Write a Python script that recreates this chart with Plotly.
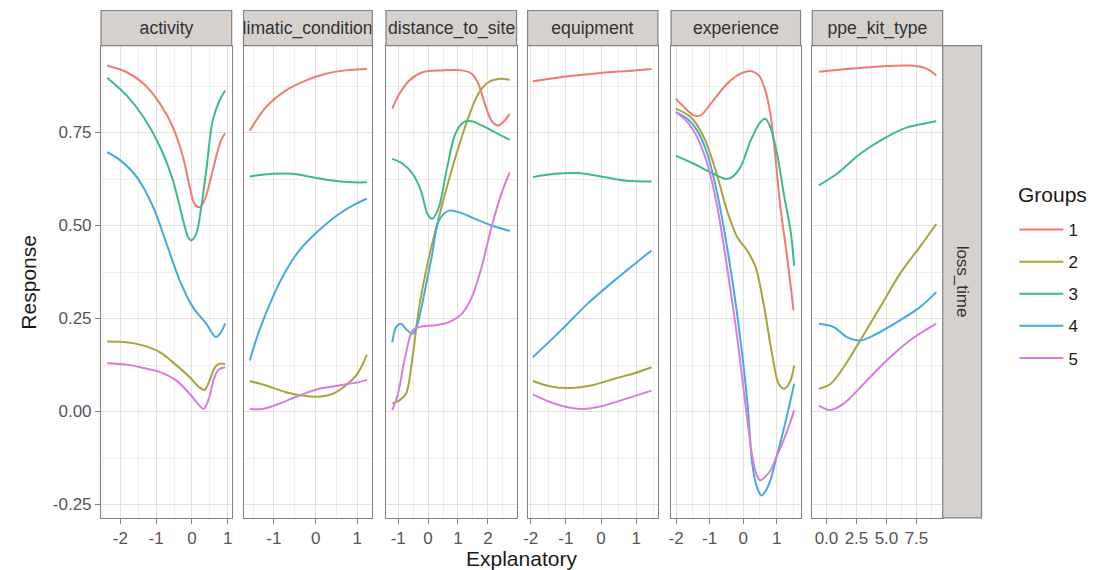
import plotly.graph_objects as go

# ---------------- data ----------------
panels = ["activity", "climatic_conditions", "distance_to_site", "equipment", "experience", "ppe_kit_type"]
groups = ["1", "2", "3", "4", "5"]
colors = ["#F27A70", "#A8A43A", "#3DBB86", "#43ABDF", "#DA7CDC"]

# activity
activity_1_x = [-2.37, -1.82, -1.35, -0.89, -0.53, -0.25, -0.06, 0.07, 0.21, 0.35, 0.58, 0.81, 0.93]
activity_1_y = [0.930, 0.912, 0.881, 0.827, 0.764, 0.684, 0.603, 0.558, 0.549, 0.567, 0.648, 0.729, 0.748]
activity_2_x = [-2.37, -1.82, -1.35, -0.89, -0.43, -0.06, 0.21, 0.35, 0.50, 0.62, 0.75, 0.93]
activity_2_y = [0.188, 0.186, 0.177, 0.159, 0.124, 0.092, 0.065, 0.058, 0.085, 0.115, 0.128, 0.128]
activity_3_x = [-2.37, -1.82, -1.35, -0.89, -0.53, -0.29, -0.11, -0.02, 0.12, 0.26, 0.40, 0.58, 0.77, 0.93]
activity_3_y = [0.897, 0.849, 0.791, 0.711, 0.621, 0.531, 0.469, 0.460, 0.478, 0.549, 0.648, 0.782, 0.836, 0.863]
activity_4_x = [-2.37, -2.00, -1.54, -1.08, -0.71, -0.34, 0.03, 0.40, 0.67, 0.81, 0.93]
activity_4_y = [0.697, 0.675, 0.630, 0.549, 0.451, 0.352, 0.280, 0.236, 0.200, 0.213, 0.237]
activity_5_x = [-2.37, -1.82, -1.35, -0.89, -0.43, -0.06, 0.21, 0.33, 0.49, 0.62, 0.75, 0.93]
activity_5_y = [0.130, 0.126, 0.117, 0.106, 0.083, 0.047, 0.016, 0.007, 0.040, 0.090, 0.113, 0.119]

# climatic_conditions
climatic_1_x = [-1.58, -1.19, -0.71, -0.23, 0.24, 0.72, 1.23]
climatic_1_y = [0.755, 0.818, 0.863, 0.890, 0.908, 0.917, 0.921]
climatic_2_x = [-1.58, -1.19, -0.71, -0.31, 0.08, 0.40, 0.72, 1.00, 1.23]
climatic_2_y = [0.082, 0.070, 0.052, 0.043, 0.040, 0.047, 0.070, 0.101, 0.153]
climatic_3_x = [-1.58, -1.03, -0.55, -0.08, 0.40, 0.88, 1.23]
climatic_3_y = [0.632, 0.639, 0.639, 0.630, 0.621, 0.616, 0.616]
climatic_4_x = [-1.58, -1.35, -1.03, -0.71, -0.39, 0.08, 0.56, 0.96, 1.23]
climatic_4_y = [0.137, 0.218, 0.307, 0.379, 0.433, 0.487, 0.531, 0.558, 0.572]
climatic_5_x = [-1.58, -1.27, -0.87, -0.39, 0.08, 0.56, 1.03, 1.23]
climatic_5_y = [0.007, 0.007, 0.021, 0.043, 0.061, 0.070, 0.079, 0.085]

# distance_to_site
distance_1_x = [-1.20, -0.96, -0.63, -0.19, 0.47, 1.13, 1.46, 1.68, 1.90, 2.12, 2.34, 2.56, 2.73]
distance_1_y = [0.814, 0.854, 0.890, 0.912, 0.917, 0.917, 0.908, 0.881, 0.827, 0.782, 0.769, 0.782, 0.800]
distance_2_x = [-1.20, -0.96, -0.74, -0.52, -0.30, 0.03, 0.36, 0.69, 1.02, 1.35, 1.68, 2.01, 2.34, 2.73]
distance_2_y = [0.021, 0.030, 0.047, 0.146, 0.280, 0.415, 0.522, 0.621, 0.711, 0.791, 0.854, 0.885, 0.894, 0.892]
distance_3_x = [-1.20, -0.85, -0.52, -0.24, -0.02, 0.14, 0.36, 0.64, 0.91, 1.19, 1.46, 1.79, 2.23, 2.73]
distance_3_y = [0.679, 0.666, 0.639, 0.594, 0.531, 0.518, 0.549, 0.657, 0.746, 0.778, 0.780, 0.769, 0.751, 0.730]
distance_4_x = [-1.20, -1.07, -0.90, -0.74, -0.52, -0.35, -0.13, 0.14, 0.36, 0.69, 1.02, 1.57, 2.12, 2.73]
distance_4_y = [0.186, 0.227, 0.236, 0.222, 0.209, 0.236, 0.316, 0.424, 0.513, 0.540, 0.536, 0.518, 0.500, 0.485]
distance_5_x = [-1.20, -1.01, -0.79, -0.52, -0.30, 0.14, 0.69, 1.13, 1.46, 1.79, 2.12, 2.45, 2.73]
distance_5_y = [0.004, 0.047, 0.137, 0.218, 0.227, 0.231, 0.240, 0.263, 0.307, 0.388, 0.495, 0.585, 0.643]

# equipment
equipment_1_x = [-1.94, -1.04, 0.00, 0.95, 1.44]
equipment_1_y = [0.888, 0.900, 0.910, 0.917, 0.921]
equipment_2_x = [-1.94, -1.42, -0.85, -0.28, 0.38, 0.95, 1.44]
equipment_2_y = [0.082, 0.067, 0.063, 0.070, 0.088, 0.103, 0.119]
equipment_3_x = [-1.94, -1.32, -0.66, 0.00, 0.66, 1.44]
equipment_3_y = [0.630, 0.639, 0.641, 0.632, 0.621, 0.618]
equipment_4_x = [-1.94, -1.14, -0.38, 0.38, 1.44]
equipment_4_y = [0.146, 0.218, 0.290, 0.352, 0.433]
equipment_5_x = [-1.94, -1.32, -0.57, -0.09, 0.57, 1.44]
equipment_5_y = [0.046, 0.021, 0.007, 0.012, 0.030, 0.056]

# experience
experience_1_x = [-2.01, -1.76, -1.47, -1.27, -0.97, -0.48, -0.08, 0.22, 0.47, 0.66, 0.81, 0.96, 1.11, 1.31, 1.50]
experience_1_y = [0.841, 0.818, 0.796, 0.796, 0.827, 0.881, 0.908, 0.915, 0.903, 0.863, 0.800, 0.684, 0.549, 0.415, 0.272]
experience_2_x = [-2.01, -1.56, -1.17, -0.82, -0.48, -0.18, 0.12, 0.37, 0.61, 0.86, 1.06, 1.23, 1.41, 1.52]
experience_2_y = [0.814, 0.791, 0.737, 0.648, 0.540, 0.469, 0.433, 0.388, 0.289, 0.155, 0.074, 0.061, 0.083, 0.124]
experience_3_x = [-2.01, -1.47, -0.97, -0.52, -0.33, -0.08, 0.22, 0.51, 0.66, 0.81, 1.01, 1.21, 1.41, 1.52]
experience_3_y = [0.688, 0.666, 0.643, 0.625, 0.630, 0.657, 0.728, 0.778, 0.787, 0.764, 0.693, 0.585, 0.487, 0.392]
experience_4_x = [-2.01, -1.66, -1.37, -1.07, -0.77, -0.48, -0.18, 0.12, 0.27, 0.40, 0.54, 0.66, 0.81, 1.00, 1.20, 1.36, 1.52]
experience_4_y = [0.805, 0.787, 0.755, 0.693, 0.585, 0.442, 0.262, 0.030, -0.140, -0.200, -0.226, -0.215, -0.185, -0.120, -0.051, 0.010, 0.075]
experience_5_x = [-2.01, -1.66, -1.37, -1.07, -0.77, -0.48, -0.18, 0.12, 0.27, 0.40, 0.51, 0.66, 0.81, 1.00, 1.20, 1.36, 1.52]
experience_5_y = [0.805, 0.778, 0.737, 0.666, 0.549, 0.388, 0.200, -0.020, -0.120, -0.170, -0.185, -0.175, -0.159, -0.120, -0.078, -0.040, 0.003]

# ppe_kit_type
ppe_1_x = [-0.63, 1.43, 4.19, 6.94, 8.04, 8.60, 9.15]
ppe_1_y = [0.913, 0.920, 0.927, 0.930, 0.925, 0.917, 0.903]
ppe_2_x = [-0.63, 0.33, 1.43, 2.81, 4.46, 6.12, 7.77, 9.15]
ppe_2_y = [0.061, 0.074, 0.119, 0.191, 0.280, 0.370, 0.442, 0.504]
ppe_3_x = [-0.63, 0.88, 2.81, 4.74, 6.67, 8.32, 9.15]
ppe_3_y = [0.608, 0.639, 0.693, 0.733, 0.763, 0.775, 0.780]
ppe_4_x = [-0.63, 0.61, 1.71, 2.81, 4.19, 6.12, 7.77, 9.15]
ppe_4_y = [0.236, 0.227, 0.200, 0.191, 0.209, 0.245, 0.280, 0.321]
ppe_5_x = [-0.63, 0.33, 1.43, 3.09, 5.01, 6.94, 9.15]
ppe_5_y = [0.016, 0.004, 0.021, 0.074, 0.137, 0.191, 0.236]

# axis ticks
x_ranges = [[-2.54, 1.11], [-1.73, 1.36], [-1.41, 2.96], [-2.09, 1.62], [-2.15, 1.71], [-1.18, 9.68]]
x_tickvals = [[-2, -1, 0, 1], [-1, 0, 1], [-1, 0, 1, 2], [-2, -1, 0, 1], [-2, -1, 0, 1], [0, 2.5, 5, 7.5]]
x_ticktext = [["-2", "-1", "0", "1"], ["-1", "0", "1"], ["-1", "0", "1", "2"], ["-2", "-1", "0", "1"],
              ["-2", "-1", "0", "1"], ["0.0", "2.5", "5.0", "7.5"]]
x_minor = [[-2.5, -1.5, -0.5, 0.5], [-1.5, -0.5, 0.5], [-1.5, -0.5, 0.5, 1.5, 2.5], [-1.5, -0.5, 0.5, 1.5],
           [-1.5, -0.5, 0.5, 1.5], [-1.25, 1.25, 3.75, 6.25, 8.75]]
y_range = [-0.286, 0.9836]
y_tickvals = [-0.25, 0, 0.25, 0.5, 0.75]
y_ticktext = ["-0.25", "0.00", "0.25", "0.50", "0.75"]
y_minor = [-0.125, 0.125, 0.375, 0.625, 0.875]

series = {
    0: [(activity_1_x, activity_1_y), (activity_2_x, activity_2_y), (activity_3_x, activity_3_y),
        (activity_4_x, activity_4_y), (activity_5_x, activity_5_y)],
    1: [(climatic_1_x, climatic_1_y), (climatic_2_x, climatic_2_y), (climatic_3_x, climatic_3_y),
        (climatic_4_x, climatic_4_y), (climatic_5_x, climatic_5_y)],
    2: [(distance_1_x, distance_1_y), (distance_2_x, distance_2_y), (distance_3_x, distance_3_y),
        (distance_4_x, distance_4_y), (distance_5_x, distance_5_y)],
    3: [(equipment_1_x, equipment_1_y), (equipment_2_x, equipment_2_y), (equipment_3_x, equipment_3_y),
        (equipment_4_x, equipment_4_y), (equipment_5_x, equipment_5_y)],
    4: [(experience_1_x, experience_1_y), (experience_2_x, experience_2_y), (experience_3_x, experience_3_y),
        (experience_4_x, experience_4_y), (experience_5_x, experience_5_y)],
    5: [(ppe_1_x, ppe_1_y), (ppe_2_x, ppe_2_y), (ppe_3_x, ppe_3_y), (ppe_4_x, ppe_4_y), (ppe_5_x, ppe_5_y)],
}

# ---------------- layout geometry ----------------
W, H = 1099, 570
panel_left = [97.5, 240.6, 383.7, 526.0, 670.1, 812.0]
panel_right = [228.7, 370.0, 514.9, 656.9, 800.2, 942.9]
plot_top, plot_bottom = 45.6, 517.9
strip_top = 10.5
BORDER = "#85817f"
STRIP_FILL = "#d6d1cd"
GRID_MAJOR = "#e6e0dd"
GRID_MINOR = "#f1edeb"
FONT = "Liberation Sans, Arial, Helvetica, sans-serif"

fig = go.Figure()

for p in range(6):
    xa = "x" if p == 0 else f"x{p + 1}"
    ya = "y" if p == 0 else f"y{p + 1}"
    for g in range(5):
        xs, ys = series[p][g]
        fig.add_trace(go.Scatter(
            x=xs, y=ys, mode="lines", xaxis=xa, yaxis=ya,
            name=groups[g], legendgroup=groups[g], showlegend=(p == 0),
            line=dict(color=colors[g], width=2, shape="spline", smoothing=0.9),
            hoverinfo="skip",
        ))

layout = dict(
    width=W, height=H,
    margin=dict(l=0, r=0, t=0, b=0),
    paper_bgcolor="white", plot_bgcolor="white",
    font=dict(family=FONT, color="#1a1a1a"),
    legend=dict(
        x=1015 / W, xanchor="left", y=1 - 212 / H, yanchor="top",
        font=dict(size=17, color="#1a1a1a"),
        tracegroupgap=7, itemwidth=44, bgcolor="rgba(0,0,0,0)",
    ),
    shapes=[], annotations=[],
)

ydom = [1 - plot_bottom / H, 1 - plot_top / H]
for p in range(6):
    sx = "" if p == 0 else str(p + 1)
    layout[f"xaxis{sx}"] = dict(
        domain=[panel_left[p] / W, panel_right[p] / W], anchor=f"y{sx}",
        range=x_ranges[p], tickmode="array", tickvals=x_tickvals[p], ticktext=x_ticktext[p],
        showgrid=True, gridcolor=GRID_MAJOR, gridwidth=1,
        minor=dict(tickmode="array", tickvals=x_minor[p], showgrid=True, gridcolor=GRID_MINOR, gridwidth=1, ticks=""),
        zeroline=False, showline=True, mirror=True, linecolor=BORDER, linewidth=1.2,
        ticks="outside", ticklen=5, tickwidth=1.2, tickcolor=BORDER,
        tickfont=dict(size=17, color="#555555", family=FONT),
    )
    layout[f"yaxis{sx}"] = dict(
        domain=ydom, anchor=f"x{sx}", range=y_range,
        tickmode="array", tickvals=y_tickvals, ticktext=y_ticktext,
        showgrid=True, gridcolor=GRID_MAJOR, gridwidth=1,
        minor=dict(tickmode="array", tickvals=y_minor, showgrid=True, gridcolor=GRID_MINOR, gridwidth=1, ticks=""),
        zeroline=False, showline=True, mirror=True, linecolor=BORDER, linewidth=1.2,
        ticks="outside" if p == 0 else "", ticklen=5, tickwidth=1.2, tickcolor=BORDER,
        showticklabels=(p == 0),
        tickfont=dict(size=17, color="#555555", family=FONT),
    )
    # strip on top
    layout["shapes"].append(dict(
        type="rect", xref="paper", yref="paper",
        x0=panel_left[p] / W, x1=panel_right[p] / W, y0=1 - plot_top / H, y1=1 - strip_top / H,
        fillcolor=STRIP_FILL, line=dict(color=BORDER, width=1.2), layer="above",
    ))
    layout["annotations"].append(dict(
        text=panels[p], xref="paper", yref="paper",
        x=(panel_left[p] + panel_right[p]) / 2 / W, y=1 - (plot_top + strip_top) / 2 / H,
        xanchor="center", yanchor="middle", showarrow=False,
        width=panel_right[p] - panel_left[p] - 2, align="center",
        font=dict(size=17.6, color="#333333", family=FONT),
    ))

# right strip
layout["shapes"].append(dict(
    type="rect", xref="paper", yref="paper",
    x0=943 / W, x1=982 / W, y0=ydom[0], y1=ydom[1],
    fillcolor=STRIP_FILL, line=dict(color=BORDER, width=1.2), layer="above",
))
layout["annotations"].append(dict(
    text="loss_time", xref="paper", yref="paper",
    x=962.5 / W, y=(ydom[0] + ydom[1]) / 2, textangle=90,
    xanchor="center", yanchor="middle", showarrow=False,
    font=dict(size=17, color="#333333", family=FONT),
))
# legend title
layout["annotations"].append(dict(
    text="Groups", xref="paper", yref="paper", x=1017 / W, y=1 - 195 / H,
    xanchor="left", yanchor="middle", showarrow=False,
    font=dict(size=21, color="#1a1a1a", family=FONT),
))
# axis titles
layout["annotations"].append(dict(
    text="Response", xref="paper", yref="paper", x=25 / W, y=(ydom[0] + ydom[1]) / 2,
    textangle=-90, xanchor="center", yanchor="middle", showarrow=False,
    font=dict(size=21, color="#1a1a1a", family=FONT),
))
layout["annotations"].append(dict(
    text="Explanatory", xref="paper", yref="paper", x=520 / W, y=1 - 558 / H,
    xanchor="center", yanchor="middle", showarrow=False,
    font=dict(size=21, color="#1a1a1a", family=FONT),
))

fig.update_layout(**layout)
fig.write_html("out.html")
